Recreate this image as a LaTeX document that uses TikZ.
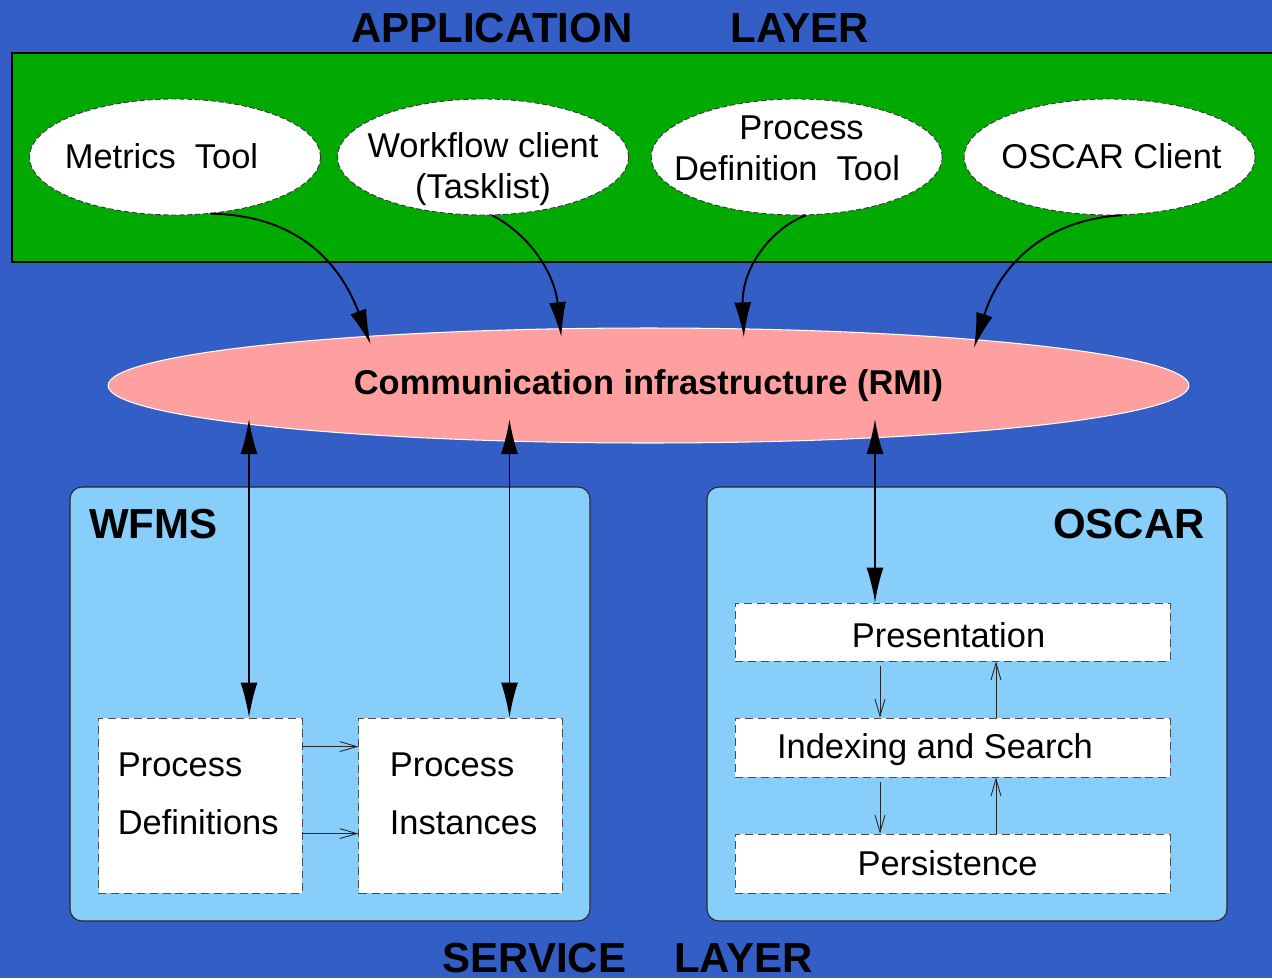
\documentclass[tikz,border=0pt]{standalone}
\usepackage{fontspec}
\setmainfont{Liberation Sans}
\usetikzlibrary{arrows.meta,shapes,calc}
\definecolor{bgblue}{RGB}{51,94,197}
\definecolor{appgreen}{RGB}{0,170,0}
\definecolor{svcblue}{RGB}{135,206,250}
\definecolor{rmipink}{RGB}{255,160,160}
\tikzstyle{plaintext} = [inner sep=0pt, font=\fontsize{19.6}{23.2}\selectfont]
\tikzstyle{layertitle} = [inner sep=0pt, font=\fontsize{23.9}{28}\selectfont\bfseries]
\tikzstyle{tool} = [ellipse, draw=black!80, dash pattern=on 3pt off 1.5pt, line width=0.5pt, fill=white, minimum width=5.82cm, minimum height=2.32cm, inner sep=0pt]
\tikzstyle{layerbox} = [rectangle, draw=black!70, dash pattern=on 4.5pt off 2.8pt, line width=0.5pt, fill=white, plaintext]
\tikzstyle{servicebox} = [fill=svcblue, draw=black!85, rounded corners=0.24cm, line width=0.6pt]
\tikzstyle{bigarrow} = [-{Latex[length=0.7cm,width=0.34cm]}, line width=1.1pt, shorten >=-0.18cm]
\tikzstyle{dblarrow} = [{Latex[length=0.7cm,width=0.34cm]}-{Latex[length=0.7cm,width=0.34cm]}, line width=1.1pt]
\tikzstyle{smallarrow} = [-{Straight Barb[length=0.34cm,width=0.2cm]}, line width=0.5pt, black!85]
\begin{document}
\begin{tikzpicture}[x=0.02cm, y=-0.02cm]
    \useasboundingbox (0,0) rectangle (1272,978);
    \fill[bgblue] (0,0) rectangle (1272,978);

    % application layer
    \draw[fill=appgreen, line width=0.6pt] (12,53) rectangle (1285,262);
    \node[layertitle, anchor=base] (apptitle) at (610,42) {APPLICATION\hspace{1.96cm}LAYER};
    \node[tool] (metrics) at (175,157) {};
    \node[plaintext, anchor=base] (metrics-txt) at (161.5,168) {Metrics\ \ Tool};
    \node[tool] (client) at (483,157) {};
    \node[plaintext, anchor=north, align=center] (client-txt) at (483,132) {Workflow client\\(Tasklist)};
    \node[tool] (pdt) at (796.7,157) {};
    \node[plaintext, anchor=north, align=center] (pdt-txt) at (801.5,115.5) {Process\\Definition\ \ Tool\hspace*{0.58cm}};
    \node[tool] (oscarclient) at (1109.6,157) {};
    \node[plaintext, anchor=base] (oscarclient-txt) at (1111.5,168) {OSCAR Client};

    % communication infrastructure
    \node[ellipse, fill=rmipink, draw=white, line width=0.6pt, minimum width=21.62cm, minimum height=2.3cm, plaintext, font=\fontsize{19.6}{23.2}\selectfont\bfseries] (rmi) at (648.5,385.5) {Communication infrastructure (RMI)};

    % service layer
    \draw[servicebox] (70,487) rectangle (590,921);
    \draw[servicebox] (707,487) rectangle (1227,921);
    \node[layertitle, anchor=base west] (wfms) at (89,538) {WFMS};
    \node[layertitle, anchor=base east] (oscar) at (1205,538) {OSCAR};
    \node[layertitle, anchor=base] (svctitle) at (627.5,972) {SERVICE\hspace{0.96cm}LAYER};

    \node[layerbox, minimum width=4.07cm, minimum height=3.5cm] (pdef) at (200.25,805.5) {};
    \node[plaintext, anchor=north west, align=left, font=\fontsize{19.6}{33}\selectfont] (pdef-txt) at (117.5,752) {Process\\Definitions};
    \node[layerbox, minimum width=4.07cm, minimum height=3.5cm] (pinst) at (460.5,805.5) {};
    \node[plaintext, anchor=north west, align=left, font=\fontsize{19.6}{33}\selectfont] (pinst-txt) at (389.5,752) {Process\\Instances};

    \node[layerbox, minimum width=8.7cm, minimum height=1.16cm, text height=0.62cm, text depth=0pt] (pres) at (952.5,632) {Presentation\hspace*{0.16cm}};
    \node[layerbox, minimum width=8.7cm, minimum height=1.18cm, text height=0.44cm, text depth=0pt] (index) at (952.5,747.5) {Indexing and Search\hspace*{0.7cm}};
    \node[layerbox, minimum width=8.7cm, minimum height=1.18cm] (persist) at (952.5,863.5) {Persistence\hspace*{0.2cm}};

    % tools -> rmi
    \draw[bigarrow] (metrics.-58) .. controls +(80,1) and +(-30,-80) .. (rmi.170);
    \draw[bigarrow] (client.-81) .. controls +(38,20) and +(-6,-55) .. (rmi.147);
    \draw[bigarrow] (pdt.-81) .. controls +(-35,13) and +(-2,-60) .. (rmi.31);
    \draw[bigarrow] (oscarclient.-78) .. controls +(-82,5) and +(22,-70) .. (rmi.8);

    % rmi <-> service layer
    \coordinate (rmi-wfa) at (249,419);
    \coordinate (rmi-wfb) at (509.5,419);
    \coordinate (rmi-osc) at (875,419);
    \draw[dblarrow] (rmi-wfa) -- (rmi-wfa |- pdef.north);
    \draw[dblarrow] (rmi-wfb) -- (rmi-wfb |- pinst.north);
    \draw[dblarrow] (rmi-osc) -- (rmi-osc |- pres.north);

    % definitions -> instances
    \draw[smallarrow] ($(pdef.north east)+(0,29)$) -- ($(pinst.north west)+(0,29)$);
    \draw[smallarrow] ($(pdef.north east)+(0,116)$) -- ($(pinst.north west)+(0,116)$);
    % oscar layers
    \draw[smallarrow] ($(pres.south)+(-72.5,5)$) -- ($(index.north)+(-72.5,0)$);
    \draw[smallarrow] ($(index.north)+(43.5,0)$) -- ($(pres.south)+(43.5,0)$);
    \draw[smallarrow] ($(index.south)+(-72.5,5)$) -- ($(persist.north)+(-72.5,0)$);
    \draw[smallarrow] ($(persist.north)+(43.5,0)$) -- ($(index.south)+(43.5,0)$);
\end{tikzpicture}
\end{document}
